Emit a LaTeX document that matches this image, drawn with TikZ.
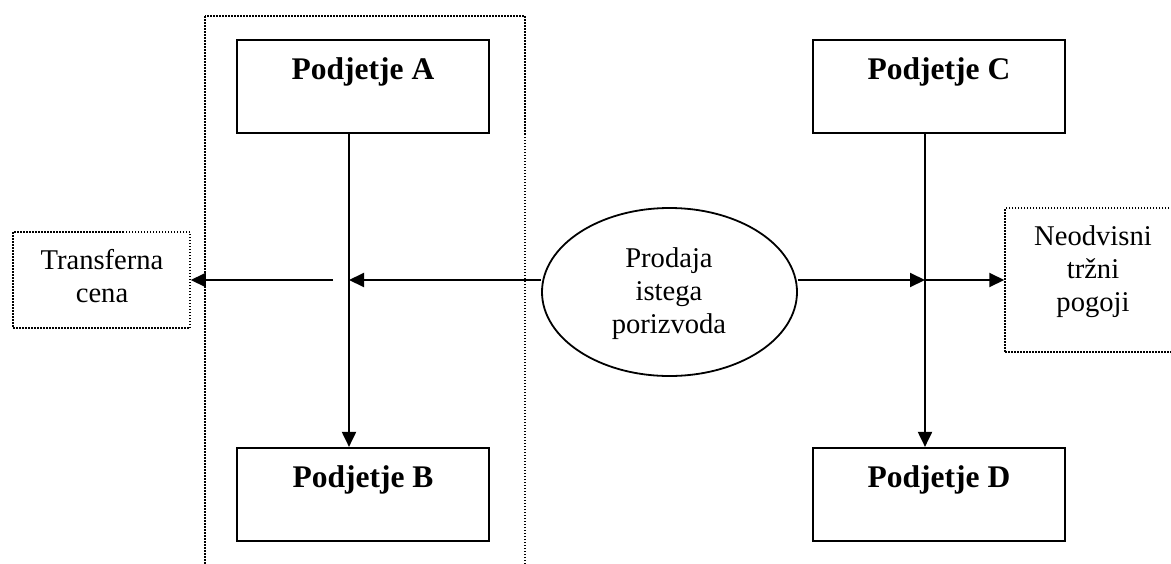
\documentclass[tikz,border=0pt]{standalone}
\usepackage{fontspec}
\setmainfont{Liberation Serif}
\usetikzlibrary{arrows.meta,shapes.geometric}
\begin{document}
\begin{tikzpicture}[x=1pt,y=-1pt,
  unit/.style={draw,line width=2.2pt,minimum width=252pt,minimum height=93pt,inner sep=0pt},
  dotbox/.style={draw,line width=1.5pt,dash pattern=on 1.5pt off 1.5pt,inner sep=0pt},
  conn/.style={line width=2pt,-{Triangle[length=15pt,width=14pt]}},
  boldtxt/.style={font=\fontsize{31.5}{36}\selectfont\bfseries,inner sep=0pt,anchor=base},
  txt/.style={font=\fontsize{28.6}{33}\selectfont,align=center,inner sep=0pt,anchor=base}]

\useasboundingbox (0,0) rectangle (1171,563);
\clip (0,0) rectangle (1171,563);

% frame grouping the two related units
\draw[dotbox] (205,16) rectangle (525,580);

% units
\node[unit] (A) at (363,86.5) {};
\node[unit] (B) at (363,494.5) {};
\node[unit] (C) at (939,86.5) {};
\node[unit] (D) at (939,494.5) {};
\node[boldtxt] at ([yshift=-41pt]A.north) {Podjetje A};
\node[boldtxt] at ([yshift=-41pt]B.north) {Podjetje B};
\node[boldtxt] at ([yshift=-41pt]C.north) {Podjetje C};
\node[boldtxt] at ([yshift=-41pt]D.north) {Podjetje D};

% central sale (text placed by the baseline of its last line)
\node[ellipse,draw,line width=1.8pt,minimum width=255pt,minimum height=168pt,inner sep=0pt] (E) at (669.5,292) {};
\node[txt] at (669,333) {Prodaja\\istega\\porizvoda};

% price boxes
\node[dotbox,minimum width=177pt,minimum height=96pt] (T) at (101.5,280) {};
\node[txt] at (102,302) {Transferna\\cena};
\node[dotbox,minimum width=190pt,minimum height=144pt] (N) at (1100,280) {};
\node[txt] at (1093,311) {Neodvisni\\tržni\\pogoji};

% junctions on the flow lines
\coordinate (jA) at (349,280);
\coordinate (jC) at (925,280);
\coordinate (gap) at (333,280);

% connectors
\draw[conn] (jA |- A.south) -- (jA |- B.north);
\draw[conn] (jC |- C.south) -- (jC |- D.north);
\draw[conn] (E.west |- jA) -- (jA);
\draw[conn] (gap) -- (T.east |- gap);
\draw[conn] (E.east |- jC) -- (jC);
\draw[conn] (jC) -- (N.west |- jC);
\end{tikzpicture}
\end{document}
